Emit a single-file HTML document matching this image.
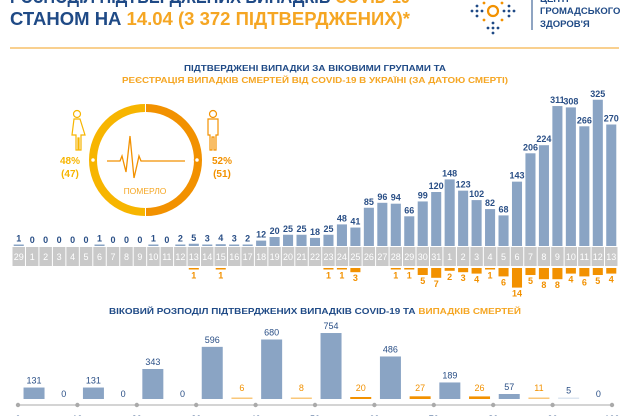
<!DOCTYPE html>
<html><head><meta charset="utf-8"><style>
html,body{margin:0;padding:0;background:#fff;width:630px;height:416px;overflow:hidden}
svg{display:block;font-family:"Liberation Sans","DejaVu Sans",sans-serif}
</style></head><body>
<svg id="chart" width="630" height="416" viewBox="0 0 630 416" xmlns="http://www.w3.org/2000/svg">
<g font-weight="bold">
<text x="10" y="3" font-size="18" fill="#1f4a86" textLength="400" lengthAdjust="spacingAndGlyphs">РОЗПОДІЛ ПІДТВЕРДЖЕНИХ ВИПАДКІВ <tspan fill="#f5a623">COVID-19</tspan></text>
<text x="10" y="25" font-size="18" fill="#1f4a86" textLength="400" lengthAdjust="spacingAndGlyphs">СТАНОМ НА <tspan fill="#f5a623">14.04 (3 372 ПІДТВЕРДЖЕНИХ)*</tspan></text>
<g>
<circle cx="493" cy="11" r="5" fill="none" stroke="#f29100" stroke-width="2.2"/>
<g fill="#1f4a86"><circle cx="472" cy="11" r="1.4"/><circle cx="477" cy="11" r="1.4"/><circle cx="482" cy="11" r="1.4"/><circle cx="477" cy="6" r="1.4"/><circle cx="477" cy="16" r="1.4"/><circle cx="504" cy="11" r="1.4"/><circle cx="509" cy="11" r="1.4"/><circle cx="514" cy="11" r="1.4"/><circle cx="509" cy="6" r="1.4"/><circle cx="509" cy="16" r="1.4"/><circle cx="493" cy="23" r="1.4"/><circle cx="493" cy="28" r="1.4"/><circle cx="493" cy="33" r="1.4"/><circle cx="488" cy="28" r="1.4"/><circle cx="498" cy="28" r="1.4"/></g>
<g fill="#f29100"><circle cx="484" cy="20" r="1.4"/><circle cx="502" cy="20" r="1.4"/><circle cx="484" cy="3" r="1.4"/><circle cx="502" cy="3" r="1.4"/></g>
</g>
<line x1="532" y1="0" x2="532" y2="30" stroke="#1f4a86" stroke-width="1"/>
<text font-size="9.5" fill="#1f4a86"><tspan x="540" y="2">ЦЕНТР</tspan><tspan x="540" y="14">ГРОМАДСЬКОГО</tspan><tspan x="540" y="27">ЗДОРОВ'Я</tspan></text>
<line x1="10" y1="48" x2="619" y2="48" stroke="#f7c06a" stroke-width="1.5"/>
</g>
<text x="315" y="71" text-anchor="middle" font-size="8.5" font-weight="bold" fill="#1f4a86" textLength="262" lengthAdjust="spacingAndGlyphs">ПІДТВЕРДЖЕНІ ВИПАДКИ ЗА ВІКОВИМИ ГРУПАМИ ТА</text>
<text x="315" y="83" text-anchor="middle" font-size="8.5" font-weight="bold" fill="#f5a623" textLength="386" lengthAdjust="spacingAndGlyphs">РЕЄСТРАЦІЯ ВИПАДКІВ СМЕРТЕЙ ВІД COVID-19 В УКРАЇНІ (ЗА ДАТОЮ СМЕРТІ)</text>

<g>
<path d="M145 108 A52 52 0 0 0 145 212" fill="none" stroke="#f7b500" stroke-width="8"/>
<path d="M146 108 A52 52 0 0 1 146 212" fill="none" stroke="#f29100" stroke-width="8"/>
<circle cx="93" cy="160" r="2.5" fill="#fff" stroke="#f7b500" stroke-width="1.5"/>
<circle cx="197" cy="160" r="2.5" fill="#fff" stroke="#f29100" stroke-width="1.5"/>
<polyline points="107,161 120,161 122,156 126,172 130,136 134,178 137,165 139,156 141,161 185,161" fill="none" stroke="#f29100" stroke-width="1.3"/>
<text x="145" y="194" text-anchor="middle" font-size="8.5" fill="#f5a623">ПОМЕРЛО</text>
<g fill="none" stroke="#f7b500" stroke-width="1.2"><circle cx="77" cy="114" r="3.5"/><path d="M74 119 h6 l5 16 h-4 v15 h-2 v-12 h-1 v12 h-2 v-15 h-4 z"/></g>
<g fill="none" stroke="#f29100" stroke-width="1.2"><circle cx="213" cy="114" r="3.5"/><path d="M208 119 h10 v16 h-2 v15 h-2 v-13 h-2 v13 h-2 v-15 h-2 z"/></g>
<text font-size="10" font-weight="bold" fill="#f7b500" text-anchor="middle"><tspan x="70" y="164">48%</tspan><tspan x="70" y="177">(47)</tspan></text>
<text font-size="10" font-weight="bold" fill="#f29100" text-anchor="middle"><tspan x="222" y="164">52%</tspan><tspan x="222" y="177">(51)</tspan></text>
</g>
<g id="daily"></g>
<text x="315" y="314" text-anchor="middle" font-size="8.5" font-weight="bold" fill="#1f4a86" textLength="412" lengthAdjust="spacingAndGlyphs">ВІКОВИЙ РОЗПОДІЛ ПІДТВЕРДЖЕНИХ ВИПАДКІВ COVID-19 ТА <tspan fill="#f5a623">ВИПАДКІВ СМЕРТЕЙ</tspan></text>
<g id="age"></g>
</svg>
<script>
const dayLabels = ["29","1","2","3","4","5","6","7","8","9","10","11","12","13","14","15","16","17","18","19","20","21","22","23","24","25","26","27","28","29","30","31","1","2","3","4","5","6","7","8","9","10","11","12","13"];
const dailyCases = [1,0,0,0,0,0,1,0,0,0,1,0,2,5,3,4,3,2,12,20,25,25,18,25,48,41,85,96,94,66,99,120,148,123,102,82,68,143,206,224,311,308,266,325,270];
const dailyDeaths = [0,0,0,0,0,0,0,0,0,0,0,0,0,1,0,1,0,0,0,0,0,0,0,1,1,3,0,0,1,1,5,7,2,3,4,1,6,14,5,8,8,4,6,5,4];
const ageGroups = ["0","10","20","30","40","50","60","70","80","90","100"];
const ageCases = [131,131,343,596,680,754,486,189,57,5];
const ageDeaths = [0,0,0,6,8,20,27,26,11,0];

const NS="http://www.w3.org/2000/svg";
function mk(p,t,a){const e=document.createElementNS(NS,t);for(const k in a)e.setAttribute(k,a[k]);p.appendChild(e);return e;}
const BLUE="#8aa4c4",TXT="#2a4f86",OR="#f29100";
const d=document.getElementById('daily');
const x0=12,cw=606/dayLabels.length,base=246,ky=0.45,dBase=268,dk=1.4;
const xd=i=>x0+i*cw;
dayLabels.forEach((lab,i)=>{
  const r=mk(d,'rect',{x:xd(i)+0.5,y:247,width:cw-1,height:19,fill:'#c9c9c9'});
  
  
  const t=mk(d,'text',{x:xd(i)+cw/2,y:260,'text-anchor':'middle','font-size':9,fill:'#fff'});
  
  
  t.textContent=lab;
});
dailyCases.forEach((v,i)=>{
  const h=Math.max(v*ky,v>0?1.5:0);
  if(v>0){const b=mk(d,'rect',{x:xd(i)+1.7,y:base-h,width:cw-3.4,height:h,fill:BLUE});
  
  }
  const t=mk(d,'text',{x:xd(i)+cw/2,y:base-h-3,'text-anchor':'middle','font-size':9,'font-weight':600,fill:TXT});
  
  
  t.textContent=v;
});
dailyDeaths.forEach((v,i)=>{
  if(!v)return;
  const h=Math.max(v*dk,1.5);
  const b=mk(d,'rect',{x:xd(i)+1.7,y:dBase,width:cw-3.4,height:h,fill:OR});
  
  
  const t=mk(d,'text',{x:xd(i)+cw/2,y:dBase+h+9,'text-anchor':'middle','font-size':9,'font-weight':600,fill:OR});
  
  
  t.textContent=v;
});
const a=document.getElementById('age');
const ax0=18,aw=59.4,abase=399,ak=0.0875;
const xa=i=>ax0+i*aw;
mk(a,'line',{x1:ax0,y1:405,x2:xa(10),y2:405,stroke:'#bbb','stroke-width':1.2});
ageGroups.forEach((g,i)=>{
  const c=mk(a,'circle',{cx:xa(i),cy:405,r:2.2,fill:'#aaa'});
  
  
  const t=mk(a,'text',{x:xa(i),y:422,'text-anchor':'middle','font-size':9,fill:TXT});
  
  
  t.textContent=g;
});
ageCases.forEach((v,i)=>{
  const cx=xa(i)+aw*0.27,h=Math.max(v*ak,1.5),light=v<20;
  const b=mk(a,'rect',{x:cx-10.5,y:abase-h,width:21,height:h,fill:light?'#dde6f0':BLUE});
  
  
  const t=mk(a,'text',{x:cx,y:abase-h-4,'text-anchor':'middle','font-size':9,fill:TXT});
  
  
  t.textContent=v;
});
ageDeaths.forEach((v,i)=>{
  const cx=xa(i)+aw*0.77;
  if(v>0){const h=Math.max(v*0.1,1.5);
    const col=v>=20?OR:'#f9c77a';
    const b=mk(a,'rect',{x:cx-10.5,y:abase-h,width:21,height:h,fill:col});
    
    }
  const t=mk(a,'text',{x:cx,y:v>0?abase-8:abase-2,'text-anchor':'middle','font-size':9,fill:v>0?OR:TXT});
  
  
  t.textContent=v;
});
</script>
</body></html>
